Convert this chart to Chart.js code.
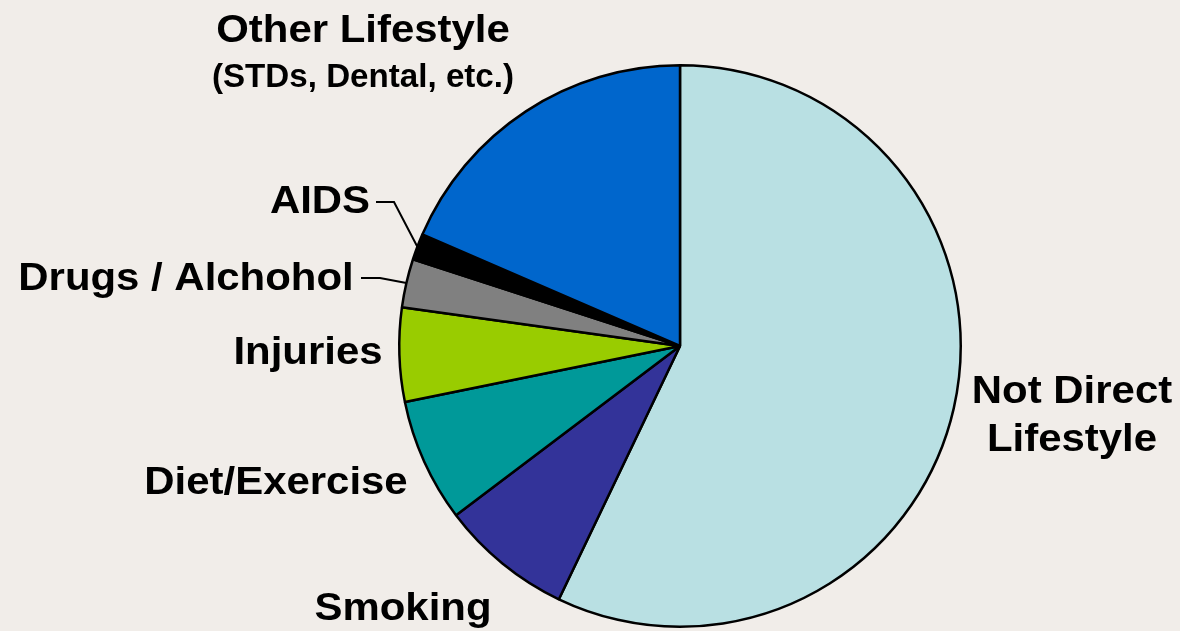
<!DOCTYPE html>
<html>
<head>
<meta charset="utf-8">
<script src="https://cdn.jsdelivr.net/npm/chart.js@4/dist/chart.umd.min.js"></script>
<style>
  html, body { margin: 0; padding: 0; background: #f1ede9; }
  #wrap { width: 1180px; height: 631px; }
</style>
</head>
<body>
<div id="wrap"><canvas id="c" width="1180" height="631"></canvas></div>
<script>
// ---- data ----
const categories = ["Not Direct Lifestyle", "Smoking", "Diet/Exercise", "Injuries", "Drugs / Alchohol", "AIDS", "Other Lifestyle"];
const shares = [57.1, 7.6, 7.1, 5.4, 2.8, 1.5, 18.5];
const sliceColors = ["#b9e0e3", "#333399", "#009999", "#99cc00", "#808080", "#000000", "#0066cc"];
const labelLines = [["Not Direct", "Lifestyle"], ["Smoking"], ["Diet/Exercise"], ["Injuries"], ["Drugs / Alchohol"], ["AIDS"], ["Other Lifestyle", "(STDs, Dental, etc.)"]];

// ---- label layout (offsets relative to pie centre) ----
const FONT = "'Liberation Sans', Arial, sans-serif";
const labelLayout = [
  { dx: 392, dy: 57, lineGap: 48, size: 39, sx: 1.075 },
  { dx: -277, dy: 274, size: 39, sx: 1.075 },
  { dx: -404, dy: 148, size: 39, sx: 1.075 },
  { dx: -372, dy: 18, size: 39, sx: 1.075 },
  { dx: -494, dy: -56, size: 39, sx: 1.075, leader: { x0: -319, x1: -300, y: -68 } },
  { dx: -360, dy: -133, size: 39, sx: 1.075, leader: { x0: -304, x1: -286, y: -144 } },
  { dx: -317, dy: -304, size: 39, sx: 1.075, sub: { dy: 45, size: 34, sx: 0.975 } }
];

function drawScaledText(ctx, text, x, y, size, sx) {
  ctx.save();
  ctx.font = "bold " + size + "px " + FONT;
  ctx.translate(x, y);
  ctx.scale(sx, 1);
  ctx.textAlign = "center";
  ctx.textBaseline = "alphabetic";
  ctx.fillStyle = "#000";
  ctx.fillText(text, 0, 0);
  ctx.restore();
}

const labelPlugin = {
  id: "sliceLabels",
  afterDatasetsDraw(chart) {
    const ctx = chart.ctx;
    const meta = chart.getDatasetMeta(0);
    meta.data.forEach((arc, i) => {
      const p = arc.getProps(["x", "y", "startAngle", "endAngle", "outerRadius"], true);
      const cx = p.x, cy = p.y;
      const L = labelLayout[i];
      const lines = labelLines[i];
      const x = cx + L.dx, y = cy + L.dy;
      if (L.sub) {
        drawScaledText(ctx, lines[0], x, y, L.size, L.sx);
        drawScaledText(ctx, lines[1], x, y + L.sub.dy, L.sub.size, L.sub.sx);
      } else {
        lines.forEach((t, k) => drawScaledText(ctx, t, x, y + k * (L.lineGap || 0), L.size, L.sx));
      }
      if (L.leader) {
        const mid = (p.startAngle + p.endAngle) / 2;
        const ex = cx + Math.cos(mid) * p.outerRadius;
        const ey = cy + Math.sin(mid) * p.outerRadius;
        ctx.save();
        ctx.strokeStyle = "#000";
        ctx.lineWidth = 2;
        ctx.beginPath();
        ctx.moveTo(cx + L.leader.x0, cy + L.leader.y);
        ctx.lineTo(cx + L.leader.x1, cy + L.leader.y);
        ctx.lineTo(ex, ey);
        ctx.stroke();
        ctx.restore();
      }
    });
  }
};

new Chart(document.getElementById("c"), {
  type: "pie",
  data: {
    labels: categories,
    datasets: [{
      data: shares,
      backgroundColor: sliceColors,
      borderColor: "#000000",
      borderWidth: 2.5
    }]
  },
  options: {
    responsive: false,
    animation: false,
    layout: { padding: { left: 398, right: 218, top: 64, bottom: 3 } },
    plugins: {
      legend: { display: false },
      tooltip: { enabled: false }
    }
  },
  plugins: [labelPlugin]
});
</script>
</body>
</html>
